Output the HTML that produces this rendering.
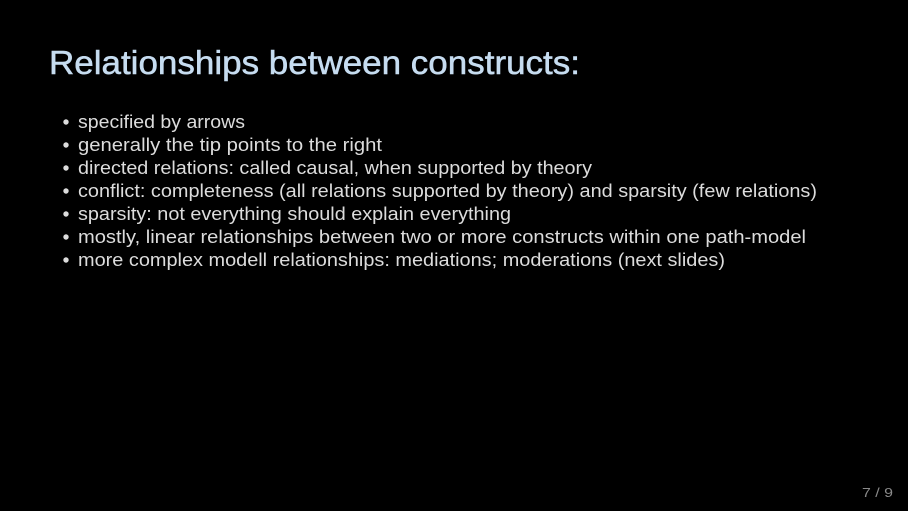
<!DOCTYPE html>
<html><head><meta charset="utf-8"><style>
html,body{margin:0;padding:0;background:#000;width:908px;height:511px;overflow:hidden}
svg{display:block}
text{font-family:"Liberation Sans",sans-serif}
</style></head><body>
<svg width="908" height="511" viewBox="0 0 908 511">
<rect width="908" height="511" fill="#000"/>
<text x="49" y="74" font-size="33" fill="#c6dcf0" stroke="#c6dcf0" stroke-width="0.5" textLength="531" lengthAdjust="spacingAndGlyphs">Relationships between constructs:</text>
<g fill="#dcdcdc" font-size="18">
<circle cx="66" cy="122" r="2.7"/><text x="78" y="128" textLength="167" lengthAdjust="spacingAndGlyphs">specified by arrows</text>
<circle cx="66" cy="145" r="2.7"/><text x="78" y="151" textLength="304" lengthAdjust="spacingAndGlyphs">generally the tip points to the right</text>
<circle cx="66" cy="168" r="2.7"/><text x="78" y="174" textLength="514" lengthAdjust="spacingAndGlyphs">directed relations: called causal, when supported by theory</text>
<circle cx="66" cy="191" r="2.7"/><text x="78" y="197" textLength="739" lengthAdjust="spacingAndGlyphs">conflict: completeness (all relations supported by theory) and sparsity (few relations)</text>
<circle cx="66" cy="214" r="2.7"/><text x="78" y="220" textLength="433" lengthAdjust="spacingAndGlyphs">sparsity: not everything should explain everything</text>
<circle cx="66" cy="237" r="2.7"/><text x="78" y="243" textLength="728" lengthAdjust="spacingAndGlyphs">mostly, linear relationships between two or more constructs within one path-model</text>
<circle cx="66" cy="260" r="2.7"/><text x="78" y="266" textLength="647" lengthAdjust="spacingAndGlyphs">more complex modell relationships: mediations; moderations (next slides)</text>
</g>
<text x="862" y="497" font-size="13" fill="#8a8a8a" textLength="31" lengthAdjust="spacingAndGlyphs">7 / 9</text>
</svg>
</body></html>
